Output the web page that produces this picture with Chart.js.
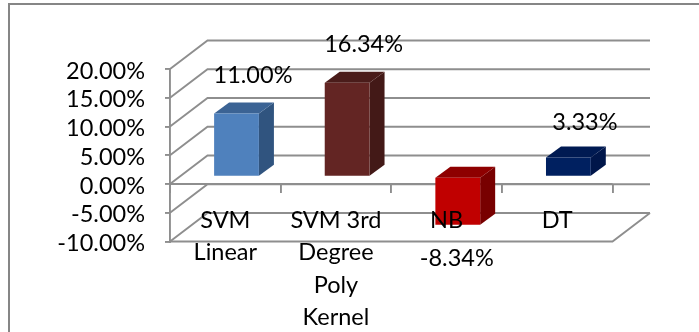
<!DOCTYPE html>
<html>
<head>
<meta charset="utf-8">
<style>
  html, body { margin: 0; padding: 0; background: #fff; }
  #wrap { width: 699px; height: 332px; }
</style>
<script src="https://cdn.jsdelivr.net/npm/chart.js@4/dist/chart.umd.min.js"></script>
</head>
<body>
<div id="wrap"><canvas id="c" width="699" height="332"></canvas></div>
<script>
// Classifier results
const categories = [['SVM', 'Linear'], ['SVM 3rd', 'Degree', 'Poly', 'Kernel'], 'NB', 'DT'];
const values = [11.00, 16.34, -8.34, 3.33];

// Bar shading: front, side and top faces
const frontColors = ['#4F81BD', '#632523', '#C00000', '#002060'];
const sideColors = ['#30547F', '#431917', '#780000', '#00164A'];
const topColors = ['#3B6394', '#4A1C1A', '#8E0000', '#001A52'];

const FONT = 'Lato, Carlito, sans-serif';
const FONT_SIZE = 23.5;
const GRID = '#8E8E8E';
const RULE = 1.9;

// Oblique projection of the 3D box: wall depth and bar depth
const WALL = { dx: 37.5, dy: -28.5 };
const BAR_SHIFT = { dx: 11.2, dy: -7.3 };
const BAR_DEPTH = { dx: 15, dy: -11 };

// Hand placement of the value labels relative to their bars
const labelNudgeY = [0, 0, 0, 2.5];

const wallsPlugin = {
  id: 'walls',
  beforeDraw(chart) {
    const { ctx, scales: { x, y } } = chart;
    ctx.save();
    // page frame
    ctx.strokeStyle = '#868686';
    ctx.lineWidth = 2;
    ctx.beginPath();
    ctx.moveTo(9, 332);
    ctx.lineTo(9, 4);
    ctx.lineTo(699, 4);
    ctx.stroke();
    // back wall rules and their side wall returns
    ctx.strokeStyle = GRID;
    ctx.lineWidth = RULE;
    const left = x.left, right = x.right;
    y.ticks.forEach(t => {
      const py = y.getPixelForValue(t.value);
      ctx.beginPath();
      ctx.moveTo(left, py);
      ctx.lineTo(left + WALL.dx, py + WALL.dy);
      ctx.lineTo(right + WALL.dx, py + WALL.dy);
      ctx.stroke();
    });
    // floor edges
    const low = y.getPixelForValue(y.min);
    const zero = y.getPixelForValue(0);
    ctx.beginPath();
    ctx.moveTo(left, low);
    ctx.lineTo(right, low);
    ctx.lineTo(right + WALL.dx, low + WALL.dy);
    ctx.stroke();
    ctx.beginPath();
    ctx.moveTo(left, zero);
    ctx.lineTo(right, zero);
    ctx.stroke();
    ctx.restore();
  }
};

const depthPlugin = {
  id: 'depth',
  beforeDatasetsDraw(chart) {
    const { ctx } = chart;
    const bars = chart.getDatasetMeta(0).data;
    ctx.save();
    ctx.translate(BAR_SHIFT.dx, BAR_SHIFT.dy);
    bars.forEach((bar, i) => {
      const hw = bar.width / 2;
      const r = bar.x + hw, l = bar.x - hw;
      const t = Math.min(bar.y, bar.base), b = Math.max(bar.y, bar.base);
      ctx.fillStyle = sideColors[i];
      ctx.beginPath();
      ctx.moveTo(r, t);
      ctx.lineTo(r + BAR_DEPTH.dx, t + BAR_DEPTH.dy);
      ctx.lineTo(r + BAR_DEPTH.dx, b + BAR_DEPTH.dy);
      ctx.lineTo(r, b);
      ctx.closePath();
      ctx.fill();
      ctx.fillStyle = topColors[i];
      ctx.beginPath();
      ctx.moveTo(l, t);
      ctx.lineTo(l + BAR_DEPTH.dx, t + BAR_DEPTH.dy);
      ctx.lineTo(r + BAR_DEPTH.dx, t + BAR_DEPTH.dy);
      ctx.lineTo(r, t);
      ctx.closePath();
      ctx.fill();
    });
    // the translation stays active while the bars' front faces are drawn
  },
  afterDatasetsDraw(chart) {
    chart.ctx.restore();
  }
};

const valueLabels = {
  id: 'valueLabels',
  afterDraw(chart) {
    const { ctx } = chart;
    ctx.save();
    ctx.font = FONT_SIZE + 'px ' + FONT;
    ctx.fillStyle = '#000';
    ctx.textAlign = 'center';
    ctx.textBaseline = 'middle';
    chart.getDatasetMeta(0).data.forEach((bar, i) => {
      const v = values[i];
      const px = bar.x + BAR_SHIFT.dx + (v >= 0 ? 16.5 : -1);
      const py = bar.y + BAR_SHIFT.dy + (v >= 0 ? -38 : 34) + labelNudgeY[i];
      ctx.fillText(v.toFixed(2) + '%', px, py);
    });
    ctx.restore();
  }
};

new Chart(document.getElementById('c'), {
  type: 'bar',
  data: {
    labels: categories,
    datasets: [{
      data: values,
      backgroundColor: frontColors,
      barPercentage: 0.405,
      categoryPercentage: 1,
      clip: false
    }]
  },
  plugins: [wallsPlugin, depthPlugin, valueLabels],
  options: {
    responsive: false,
    animation: false,
    layout: { padding: { left: 0, top: 69, right: 86.5, bottom: 90.5 } },
    plugins: { legend: { display: false }, tooltip: { enabled: false } },
    scales: {
      x: {
        position: { y: 0 },
        afterFit(scale) { scale.height = 0; },
        grid: { drawOnChartArea: false, drawTicks: true, tickLength: 9, color: GRID, lineWidth: RULE, offset: true },
        border: { display: false },
        ticks: {
          z: 1,
          padding: 11,
          color: '#000',
          maxRotation: 0,
          autoSkip: false,
          font: { family: FONT, size: FONT_SIZE, lineHeight: 1.38 }
        }
      },
      y: {
        min: -10,
        max: 20,
        afterFit(scale) { scale.width = 170; },
        grid: { drawOnChartArea: false, drawTicks: true, tickLength: 5, color: GRID, lineWidth: RULE },
        border: { display: true, color: GRID, width: RULE },
        ticks: {
          stepSize: 5,
          autoSkip: false,
          labelOffset: 2,
          padding: 20,
          color: '#000',
          font: { family: FONT, size: FONT_SIZE },
          callback: v => v.toFixed(2) + '%'
        }
      }
    }
  }
});
</script>
</body>
</html>
